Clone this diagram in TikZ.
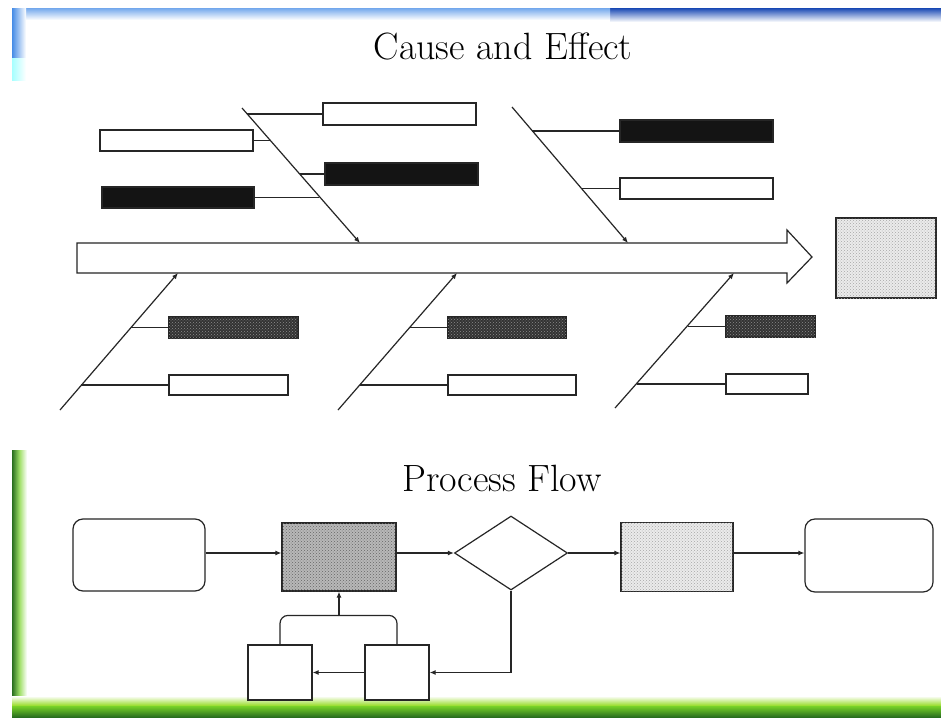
\documentclass[tikz,border=0pt]{standalone}
\usetikzlibrary{arrows.meta,shapes.geometric,patterns}
\definecolor{topblue}{RGB}{40,85,185}
\definecolor{skyblue}{RGB}{70,140,230}
\definecolor{grassdark}{RGB}{40,110,30}
\definecolor{grasslight}{RGB}{120,210,40}
\tikzset{
  ln/.style={line width=1.2pt,draw=black!85},
  tip/.style={-{Latex[length=6pt,width=5pt]}},
  wbox/.style={ln,fill=white,inner sep=0pt,rectangle},
  bbox/.style={ln,fill=black!92,inner sep=0pt,rectangle},
  dbox/.style={ln,fill=black!80,inner sep=0pt,rectangle,postaction={pattern=crosshatch dots,pattern color=black!45}},
  sbox/.style={ln,fill=black!28,inner sep=0pt,rectangle,postaction={pattern=crosshatch dots,pattern color=black!60}},
  lbox/.style={ln,fill=black!8,inner sep=0pt,rectangle,postaction={pattern=crosshatch dots,pattern color=black!35}},
  rbox/.style={ln,fill=white,inner sep=0pt,rectangle,rounded corners=10pt},
  ttl/.style={font=\fontsize{38}{44}\selectfont,inner sep=0pt}
}
\begin{document}
\begin{tikzpicture}[x=1pt,y=-1pt]
\useasboundingbox (0,0) rectangle (941,717);
\fill[white] (0,0) rectangle (941,717);
% slide decoration
\shade[top color=topblue,bottom color=white] (610,9) rectangle (941,22);
\shade[top color=skyblue!70,bottom color=white] (12,9) rectangle (610,20);
\shade[left color=skyblue,right color=white] (12,9) rectangle (26,58);
\shade[left color=cyan!35,right color=white] (12,58) rectangle (26,80);
\shade[left color=grassdark,right color=white,middle color=grasslight!70] (12,450) rectangle (27,717);
\shade[top color=white,bottom color=grasslight!80!yellow] (12,696) rectangle (941,706);
\shade[top color=grasslight,bottom color=grassdark] (12,706) rectangle (941,717);

% titles
\node[ttl] (t1) at (503,46) {Cause and Effect};
\node[ttl] (t2) at (502,478) {Process Flow};

% spine
\coordinate (sp) at (77,243);
\draw[ln,fill=white] (77,243) -- (787,243) -- (787,230) -- (812,257) -- (787,283) -- (787,273) -- (77,273) -- cycle;
\node[lbox,minimum width=100pt,minimum height=80pt] (eff) at (886,258) {};

% upper-left bone
\coordinate (u1s) at (242,108);
\coordinate (u1e) at (360,243);
\draw[ln,tip] (u1s) -- (u1e);
\node[wbox,minimum width=153pt,minimum height=22pt] (A) at (399.5,114) {};
\node[wbox,minimum width=153pt,minimum height=21pt] (B) at (176.5,140.5) {};
\node[bbox,minimum width=153pt,minimum height=22pt] (C) at (401.5,174) {};
\node[bbox,minimum width=152pt,minimum height=21pt] (D) at (178,197.5) {};
\coordinate (ja) at (247,114);
\coordinate (jb) at (270,140.5);
\coordinate (jc) at (300,174);
\coordinate (jd) at (319,197.5);
\draw[ln] (ja) -- (A.west);
\draw[ln] (B.east) -- (jb);
\draw[ln] (jc) -- (C.west);
\draw[ln] (D.east) -- (jd);

% upper-right bone
\coordinate (u2s) at (512,107);
\coordinate (u2e) at (628,243);
\draw[ln,tip] (u2s) -- (u2e);
\node[bbox,minimum width=153pt,minimum height=22pt] (E) at (696.5,131) {};
\node[wbox,minimum width=153pt,minimum height=21pt] (F) at (696.5,188.5) {};
\coordinate (je) at (532,131);
\coordinate (jf) at (581,188.5);
\draw[ln] (je) -- (E.west);
\draw[ln] (jf) -- (F.west);

% lower bones
\coordinate (l1s) at (60,410);
\coordinate (l1e) at (178,273);
\coordinate (l2s) at (338,410);
\coordinate (l2e) at (457,273);
\coordinate (l3s) at (615,408);
\coordinate (l3e) at (734,273);
\draw[ln,tip] (l1s) -- (l1e);
\draw[ln,tip] (l2s) -- (l2e);
\draw[ln,tip] (l3s) -- (l3e);
\node[dbox,minimum width=129pt,minimum height=21pt] (G) at (233.5,327.5) {};
\node[wbox,minimum width=119pt,minimum height=20pt] (H) at (228.5,385) {};
\node[dbox,minimum width=118pt,minimum height=21pt] (I) at (507,327.5) {};
\node[wbox,minimum width=128pt,minimum height=20pt] (J) at (512,385) {};
\node[dbox,minimum width=89pt,minimum height=21pt] (K) at (770.5,326.5) {};
\node[wbox,minimum width=82pt,minimum height=20pt] (L) at (767,384) {};
\coordinate (jg) at (131,327.5);
\coordinate (jh) at (81,385);
\coordinate (ji) at (410,327.5);
\coordinate (jj) at (360,385);
\coordinate (jk) at (688,326.5);
\coordinate (jl) at (637,384);
\draw[ln] (jg) -- (G.west);
\draw[ln] (jh) -- (H.west);
\draw[ln] (ji) -- (I.west);
\draw[ln] (jj) -- (J.west);
\draw[ln] (jk) -- (K.west);
\draw[ln] (jl) -- (L.west);

% process flow
\node[rbox,minimum width=132pt,minimum height=72pt] (P1) at (139,555) {};
\node[sbox,minimum width=114pt,minimum height=68pt] (P2) at (339,557) {};
\node[ln,diamond,fill=white,inner sep=0pt,minimum width=113pt,minimum height=74pt] (Dm) at (511,553) {};
\node[lbox,minimum width=112pt,minimum height=69pt] (P3) at (677,557) {};
\node[rbox,minimum width=128pt,minimum height=73pt] (P4) at (869,555.5) {};
\node[wbox,minimum width=64pt,minimum height=55pt] (Q1) at (280,672.5) {};
\node[wbox,minimum width=64pt,minimum height=55pt] (Q2) at (397,672.5) {};

\draw[ln,tip] (P1.east |- Dm.west) -- (P2.west |- Dm.west);
\draw[ln,tip] (P2.east |- Dm.west) -- (Dm.west);
\draw[ln,tip] (Dm.east) -- (P3.west |- Dm.east);
\draw[ln,tip] (P3.east |- Dm.east) -- (P4.west |- Dm.east);
\draw[ln,tip] (Dm.south) |- (Q2.east);
\draw[ln,tip] (Q2.west) -- (Q1.east);
\draw[ln,rounded corners=8pt] (Q1.north) -- ++(0,-29) -| (Q2.north);
\coordinate (mg) at (339,616);
\draw[ln,tip] (mg) -- (P2.south);
\end{tikzpicture}
\end{document}
